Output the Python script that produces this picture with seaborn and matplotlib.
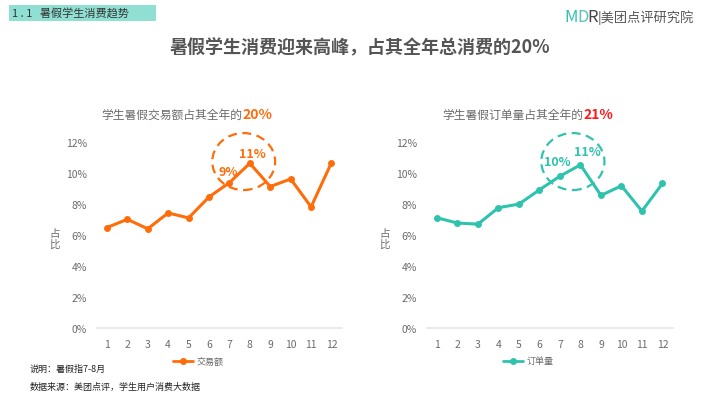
import numpy as np
import pandas as pd
import matplotlib.pyplot as plt
import seaborn as sns
from matplotlib.patches import Ellipse, Rectangle

##################################################################################################
#                                            DATA                                                #
##################################################################################################

MONTHS = list(range(1, 13))
TRADE_SHARE = [6.47, 7.00, 6.39, 7.41, 7.09, 8.44, 9.36, 10.61, 9.11, 9.60, 7.80, 10.65]
ORDER_SHARE = [7.10, 6.76, 6.69, 7.75, 7.98, 8.90, 9.78, 10.51, 8.54, 9.16, 7.53, 9.31]
Y_TICKS = [0, 2, 4, 6, 8, 10, 12]

TRADE_NAME = "交易额"
ORDER_NAME = "订单量"
TRADE_LABELS = [(7, "9%"), (8, "11%")]
ORDER_LABELS = [(7, "10%"), (8, "11%")]

ORANGE = "#FF6D0A"
TEAL = "#2FC3AE"
GRAY = "#6b6b6b"

##################################################################################################
#                                         FIGURE SETUP                                           #
##################################################################################################

sns.set_theme(style="white")
plt.rcParams["font.family"] = ["Noto Sans CJK SC", "DejaVu Sans"]

fig = plt.figure(figsize=(7.2, 4.06), dpi=100)
W, H = 720, 406


def px(x, y):
    return x / W, 1 - y / H


def draw_panel(ax, values, name, color, labels, title_txt, title_pct, pct_color,
               title_x, ell_x, label_offsets):
    df = pd.DataFrame({"month": MONTHS, "share": values, "series": name})
    sns.lineplot(data=df, x="month", y="share", ax=ax, color=color, marker="o",
                 markersize=5, markeredgewidth=0, linewidth=2.2, legend=False,
                 clip_on=False)
    ax.set_xlim(0.5, 12.5)
    ax.set_ylim(0, 12)
    ax.set_xticks(MONTHS)
    ax.set_xticklabels([str(m) for m in MONTHS], fontsize=7.5, color=GRAY)
    ax.set_yticks(Y_TICKS)
    ax.set_yticklabels([f"{t}%" for t in Y_TICKS], fontsize=7.5, color=GRAY)
    ax.tick_params(axis="x", length=0, pad=8)
    ax.tick_params(axis="y", length=0, pad=7)
    for s in ["top", "right", "left"]:
        ax.spines[s].set_visible(False)
    ax.spines["bottom"].set_color("#e6e6e6")
    ax.spines["bottom"].set_linewidth(1.2)
    ax.set_xlabel("")
    ax.set_ylabel("")

    # dashed highlight ellipse around the summer months
    ax.add_patch(Ellipse((ell_x, 10.72), 3.08, 3.67, fill=False, edgecolor=color,
                         linestyle=(0, (4, 2.5)), linewidth=1.6, clip_on=False))
    for (m, txt), (dx, dy) in zip(labels, label_offsets):
        ax.text(m + dx, values[m - 1] + dy, txt, color=color, fontsize=9,
                fontweight="bold", ha="center", va="center")

    # "占比" stacked upright
    bb = ax.get_position()
    fig.text(bb.x0 - 42 / W, bb.y0 + bb.height * 0.48, "占\n比", fontsize=7.5,
             color=GRAY, ha="center", va="center", linespacing=1.0)

    # panel title: gray text + coloured bold percentage
    t1 = fig.text(*px(title_x, 115), title_txt, fontsize=8.5, color=GRAY,
                  ha="left", va="center")
    fig.canvas.draw()
    ext = t1.get_window_extent()
    fig.text(ext.x1 / W, 1 - 115 / H, title_pct, fontsize=10, color=pct_color,
             fontweight="bold", ha="left", va="center")

    # legend below the axis
    lx = bb.x0 + bb.width * 0.31
    fig.lines.append(plt.Line2D([lx, lx + 20 / W], [1 - 362 / H] * 2,
                                transform=fig.transFigure, color=color, linewidth=2))
    fig.lines.append(plt.Line2D([lx + 10 / W], [1 - 362 / H], transform=fig.transFigure,
                                color=color, marker="o", markersize=4))
    fig.text(lx + 24 / W, 1 - 362 / H, name, fontsize=6.5, color=GRAY,
             ha="left", va="center")


ax1 = fig.add_axes([96.7 / W, 1 - 329 / H, 245 / W, 186.3 / H])
ax2 = fig.add_axes([426.7 / W, 1 - 329 / H, 246 / W, 186.3 / H])

draw_panel(ax1, TRADE_SHARE, TRADE_NAME, ORANGE, TRADE_LABELS,
           "学生暑假交易额占其全年的", "20%", ORANGE, 101.7, 7.70,
           [(-0.06, 0.72), (0.13, 0.64)])
draw_panel(ax2, ORDER_SHARE, ORDER_NAME, TEAL, ORDER_LABELS,
           "学生暑假订单量占其全年的", "21%", "#FF1A1A", 442.7, 7.63,
           [(-0.11, 0.92), (0.33, 0.87)])

##################################################################################################
#                                     HEADER AND FOOTER                                          #
##################################################################################################

fig.patches.append(Rectangle(px(9, 22), 147 / W, 16 / H, transform=fig.transFigure,
                             facecolor="#8FE0D3", edgecolor="none"))
fig.text(*px(12, 14), "1 . 1   暑假学生消费趋势", fontsize=8, color="#333333",
         ha="left", va="center")

fig.text(*px(360, 48), "暑假学生消费迎来高峰，占其全年总消费的20%", fontsize=13,
         fontweight="bold", color="#555555", ha="center", va="center")

fig.text(*px(564, 18), "M", fontsize=12, color=TEAL, ha="left", va="center")
fig.text(*px(577, 18), "D", fontsize=12, color="#5FBFB8", ha="left", va="center")
fig.text(*px(587, 18), "R", fontsize=12, color="#444444", ha="left", va="center")
fig.text(*px(598, 18), "|美团点评研究院", fontsize=9.5, color="#555555",
         ha="left", va="center")

fig.text(*px(30, 369), "说明：暑假指7-8月", fontsize=6.5, color="#222222",
         ha="left", va="center")
fig.text(*px(30, 387), "数据来源：美团点评，学生用户消费大数据", fontsize=6.5,
         color="#222222", ha="left", va="center")

fig.savefig("out.png", dpi=100, facecolor="white")
